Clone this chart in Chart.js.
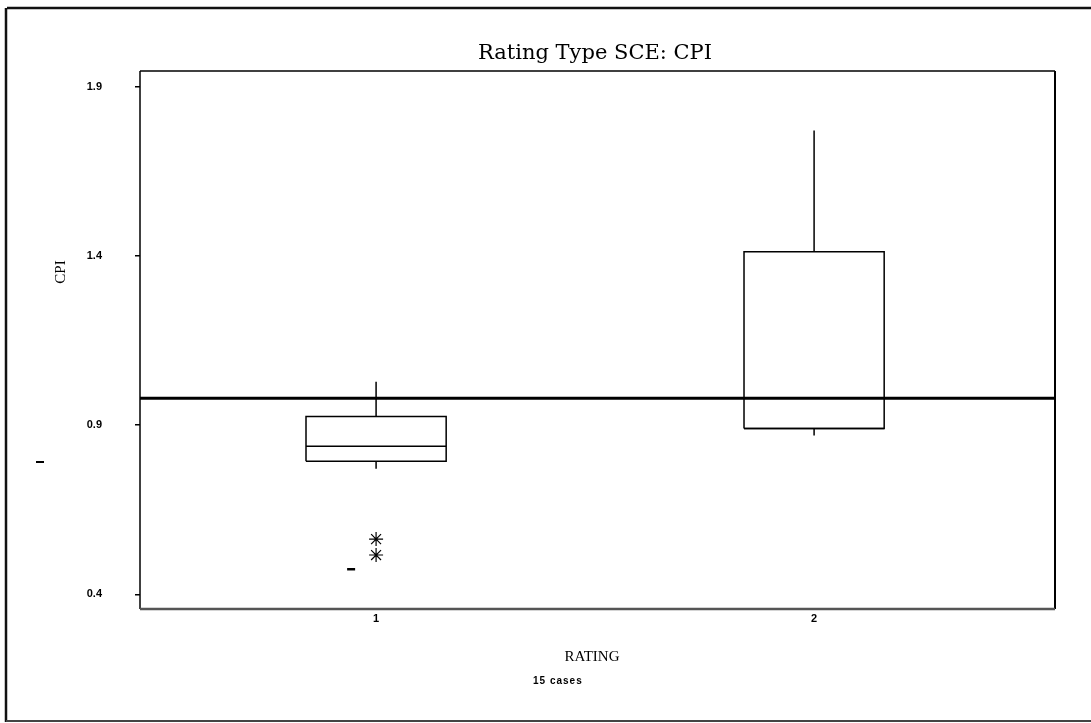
<!DOCTYPE html>
<html lang="en">
<head>
<meta charset="UTF-8">
<title>Rating Type SCE: CPI</title>
<style>
    html, body { margin: 0; padding: 0; background: #fff; }
    canvas { display: block; }
</style>
<script src="https://cdn.jsdelivr.net/npm/chart.js"></script>
</head>
<body>
<canvas id="boxChart" width="1091" height="723"></canvas>
<script>
    // Box plot values (CPI by rating)
    const ratings = [1, 2];
    const whiskerLow = [0.771, 0.869];
    const q1 = [0.793, 0.890];
    const median = [0.837, 0.890];
    const q3 = [0.925, 1.412];
    const whiskerHigh = [1.028, 1.770];
    const outliers = [[0.563, 0.516], []];
    const strayX = [0.943];
    const strayY = [0.474];
    const referenceCPI = 0.979;
    const yTicks = [0.4, 0.9, 1.4, 1.9];
    const xTicks = [1, 2];
    const caseCount = 15;

    const halfWidth = 0.16;
    const xMin = 0.461, xMax = 2.55;

    // Build line segments for each box
    const datasets = [];
    const seg = (pts, width) => ({
        type: 'scatter',
        data: pts,
        showLine: true,
        borderColor: '#000',
        borderWidth: width,
        pointRadius: 0,
        fill: false
    });

    ratings.forEach((r, i) => {
        const l = r - halfWidth, rt = r + halfWidth;
        datasets.push(seg([{x: l, y: q1[i]}, {x: rt, y: q1[i]}, {x: rt, y: q3[i]}, {x: l, y: q3[i]}, {x: l, y: q1[i]}], 1.5));
        datasets.push(seg([{x: l, y: median[i]}, {x: rt, y: median[i]}], 1.5));
        datasets.push(seg([{x: r, y: q3[i]}, {x: r, y: whiskerHigh[i]}], 1.5));
        datasets.push(seg([{x: r, y: q1[i]}, {x: r, y: whiskerLow[i]}], 1.5));
        datasets.push({
            type: 'scatter',
            data: outliers[i].map(v => ({x: r, y: v})),
            pointStyle: 'star',
            pointRadius: 7,
            borderColor: '#000',
            borderWidth: 1.2,
            backgroundColor: '#000'
        });
    });

    // reference line across the plot
    datasets.push(seg([{x: xMin, y: referenceCPI}, {x: xMax, y: referenceCPI}], 3));

    // small stray mark near rating 1
    datasets.push({
        type: 'scatter',
        data: strayX.map((x, i) => ({x: x, y: strayY[i]})),
        pointStyle: 'line',
        pointRadius: 4,
        borderColor: '#000',
        borderWidth: 2.5
    });

    function line(ctx, x1, y1, x2, y2) {
        ctx.beginPath();
        ctx.moveTo(x1, y1);
        ctx.lineTo(x2, y2);
        ctx.stroke();
    }

    // Frame, plot border and the free texts
    const decorations = {
        id: 'decorations',
        afterDraw(chart) {
            const ctx = chart.ctx;
            const a = chart.chartArea;
            ctx.save();

            ctx.strokeStyle = '#000';
            ctx.lineWidth = 1.5;
            line(ctx, a.left, a.top, a.right, a.top);
            line(ctx, a.left, a.top, a.left, a.bottom);
            ctx.lineWidth = 2;
            line(ctx, a.right, a.top, a.right, a.bottom);
            ctx.strokeStyle = '#555';
            ctx.lineWidth = 2.5;
            line(ctx, a.left, a.bottom, a.right, a.bottom);

            // outer page frame
            ctx.strokeStyle = '#111';
            ctx.lineWidth = 2.5;
            line(ctx, 7, 8, 1091, 8);
            line(ctx, 6, 8, 6, 722);
            ctx.strokeStyle = '#444';
            ctx.lineWidth = 2;
            line(ctx, 6, 721, 1091, 721);

            // stray dash left of the axis
            ctx.strokeStyle = '#000';
            ctx.lineWidth = 2;
            line(ctx, 36, 462, 44, 462);

            ctx.fillStyle = '#000';
            ctx.textAlign = 'center';
            ctx.textBaseline = 'alphabetic';
            ctx.font = '21px "DejaVu Serif"';
            ctx.fillText('Rating Type SCE: CPI', 595, 59);

            ctx.textBaseline = 'middle';
            ctx.font = '15px "Liberation Serif"';
            ctx.fillText('RATING', 592, 657);

            ctx.save();
            ctx.translate(61, 272);
            ctx.rotate(-Math.PI / 2);
            ctx.fillText('CPI', 0, 0);
            ctx.restore();

            ctx.textAlign = 'left';
            ctx.font = 'bold 10px "Liberation Sans"';
            ctx.letterSpacing = '1px';
            ctx.fillText(caseCount + ' cases', 533, 681);
            ctx.letterSpacing = '0px';

            ctx.restore();
        }
    };

    new Chart(document.getElementById('boxChart').getContext('2d'), {
        type: 'scatter',
        data: { datasets: datasets },
        options: {
            responsive: false,
            animation: false,
            devicePixelRatio: 1,
            layout: { padding: { top: 71, right: 36, bottom: 0, left: 0 } },
            plugins: {
                legend: { display: false },
                tooltip: { enabled: false },
                title: { display: false }
            },
            scales: {
                x: {
                    type: 'linear',
                    min: xMin,
                    max: xMax,
                    afterBuildTicks: s => { s.ticks = xTicks.map(v => ({ value: v })); },
                    afterFit: s => { s.height = 114; },
                    grid: { drawOnChartArea: false, drawTicks: false },
                    border: { display: false },
                    ticks: {
                        padding: 3,
                        color: '#000',
                        font: { family: 'Liberation Sans', size: 11, weight: 'bold' },
                        callback: v => String(v)
                    }
                },
                y: {
                    type: 'linear',
                    min: 0.3565,
                    max: 1.946,
                    afterBuildTicks: s => { s.ticks = yTicks.map(v => ({ value: v })); },
                    afterFit: s => { s.width = 140; },
                    grid: { drawOnChartArea: false, drawTicks: true, tickLength: 5, color: '#000', lineWidth: 1.5 },
                    border: { display: false },
                    ticks: {
                        padding: 33,
                        color: '#000',
                        font: { family: 'Liberation Sans', size: 11, weight: 'bold' },
                        callback: v => v.toFixed(1)
                    }
                }
            }
        },
        plugins: [decorations]
    });
</script>
</body>
</html>
